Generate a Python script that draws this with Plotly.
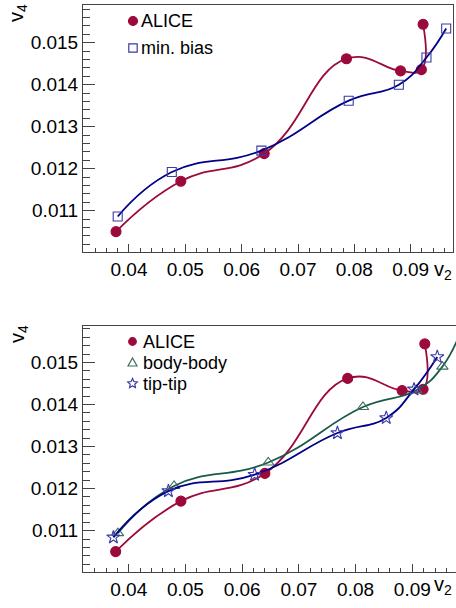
import math
import plotly.graph_objects as go

# ---------------- data ----------------
alice_v2 = [0.0377, 0.0492, 0.0640, 0.0786, 0.0882, 0.0919, 0.0922]
alice_v4 = [0.01050, 0.01170, 0.01236, 0.01462, 0.01433, 0.01436, 0.01544]

minbias_v2 = [0.0380, 0.0476, 0.0635, 0.0790, 0.0879, 0.0928, 0.0963]
minbias_v4 = [0.01086, 0.01192, 0.01243, 0.01362, 0.01400, 0.01465, 0.01534]

bodybody_v2 = [0.0381, 0.0480, 0.0646, 0.0813, 0.0907, 0.0953, 0.0990]
bodybody_v4 = [0.01094, 0.01206, 0.01262, 0.01394, 0.01434, 0.01490, 0.01590]

tiptip_v2 = [0.0373, 0.0470, 0.0622, 0.0768, 0.0854, 0.0903, 0.0944]
tiptip_v4 = [0.01084, 0.01194, 0.01233, 0.01332, 0.01368, 0.01436, 0.01513]

# ---------------- style ----------------
W, H = 456, 608
RED = "#9c0a3c"
NAVY = "#000088"
BLUE_MK = "#3a3aa8"
GREEN = "#1a5a4a"
GREEN_MK = "#3d6e62"
FRAME = "#444444"
FONT = "Liberation Sans, Arial, Helvetica, sans-serif"


def fx(px):
    return px / W


def fy(py):
    return 1 - py / H


fig = go.Figure()


def add_curve(x, y, color, mcolor, symbol, size, xa, ya):
    fig.add_trace(go.Scatter(
        x=x, y=y, mode="lines+markers", xaxis=xa, yaxis=ya,
        line=dict(color=color, width=1.8, shape="spline", smoothing=1.3),
        marker=dict(symbol=symbol, size=size, color=mcolor,
                    line=dict(color=mcolor, width=1.1)),
        showlegend=False, hoverinfo="skip"))


# top panel
add_curve(alice_v2, alice_v4, RED, RED, "circle", 10, "x", "y")
add_curve(minbias_v2, minbias_v4, NAVY, BLUE_MK, "square-open", 9, "x", "y")
# bottom panel
add_curve(alice_v2, alice_v4, RED, RED, "circle", 10, "x2", "y2")
add_curve(bodybody_v2, bodybody_v4, GREEN, GREEN_MK, "triangle-up-open", 10, "x2", "y2")
add_curve(tiptip_v2, tiptip_v4, NAVY, BLUE_MK, "star-open", 10, "x2", "y2")


def xaxis(domain, rng):
    return dict(domain=domain, range=rng, showgrid=False, zeroline=False,
                showline=True, linecolor=FRAME, linewidth=1, mirror=True,
                ticks="inside", ticklen=8, tickcolor=FRAME, tickwidth=1,
                dtick=0.01, tick0=0, tickformat=".2f",
                tickfont=dict(family=FONT, size=19, color="black"),
                minor=dict(dtick=0.002, tick0=0, ticks="inside", ticklen=4,
                           tickcolor=FRAME, tickwidth=1, showgrid=False))


def yaxis(domain, rng, anchor, mirror):
    return dict(domain=domain, range=rng, anchor=anchor, showgrid=False,
                zeroline=False, showline=True, linecolor=FRAME, linewidth=1,
                mirror=mirror,
                ticks="inside", ticklen=12, tickcolor=FRAME, tickwidth=1,
                dtick=0.001, tick0=0, tickformat=".3f",
                tickfont=dict(family=FONT, size=19, color="black"),
                minor=dict(dtick=0.0002, tick0=0, ticks="inside", ticklen=7,
                           tickcolor=FRAME, tickwidth=1, showgrid=False))


fig.update_layout(
    width=W, height=H, margin=dict(l=0, r=0, t=0, b=0),
    paper_bgcolor="white", plot_bgcolor="white",
    xaxis=xaxis([fx(83), fx(453)], [0.03184, 0.09751]) | dict(anchor="y"),
    yaxis=yaxis([fy(252), fy(5)], [0.010015, 0.0159], "x", True),
    xaxis2=xaxis([fx(83), 1.0], [0.03194, 0.0977]) | dict(anchor="y2"),
    yaxis2=yaxis([fy(572), fy(326)], [0.010015, 0.015866], "x2", False),
)

annotations = []
shapes = []


def title(text, xpx, ypx, xanchor, yanchor, angle=0):
    annotations.append(dict(text=text, xref="paper", yref="paper",
                            x=fx(xpx), y=fy(ypx), xanchor=xanchor,
                            yanchor=yanchor, textangle=angle, showarrow=False,
                            font=dict(family=FONT, size=20, color="black")))


title("v<sub>4</sub>", 18, 2, "center", "top", -90)
title("v<sub>2</sub>", 454, 270, "right", "middle")
title("v<sub>4</sub>", 18, 323, "center", "top", -90)
title("v<sub>2</sub>", 454, 585, "right", "middle")


def leg_text(text, xpx, ypx):
    annotations.append(dict(text=text, xref="paper", yref="paper",
                            x=fx(xpx), y=fy(ypx), xanchor="left",
                            yanchor="middle", showarrow=False,
                            font=dict(family=FONT, size=18, color="black")))


def pix_shape(kind, xpx, ypx, color, fill=None, **kw):
    d = dict(type=kind, xref="paper", yref="paper",
             xsizemode="pixel", ysizemode="pixel",
             xanchor=fx(xpx), yanchor=fy(ypx),
             line=dict(color=color, width=1.2),
             fillcolor=fill if fill else "rgba(0,0,0,0)")
    d.update(kw)
    shapes.append(d)


def star_path(r_out, r_in):
    pts = []
    for i in range(10):
        r = r_out if i % 2 == 0 else r_in
        a = math.pi / 2 + i * math.pi / 5
        pts.append((r * math.cos(a), r * math.sin(a)))
    return "M " + " L ".join(f"{p[0]:.2f},{p[1]:.2f}" for p in pts) + " Z"


# top legend
pix_shape("circle", 133, 21, RED, RED, x0=-4.5, x1=4.5, y0=-4.5, y1=4.5)
leg_text("ALICE", 139, 21)
pix_shape("rect", 133, 48, BLUE_MK, None, x0=-4.2, x1=4.2, y0=-4.2, y1=4.2)
leg_text("min. bias", 139, 48)

# bottom legend
pix_shape("circle", 132.5, 341.5, RED, RED, x0=-3.8, x1=3.8, y0=-3.8, y1=3.8)
leg_text("ALICE", 141, 341.5)
pix_shape("path", 132.5, 362.5, GREEN_MK, None,
          path="M -4.5,-3.5 L 4.5,-3.5 L 0,4.5 Z")
leg_text("body-body", 141, 362.5)
pix_shape("path", 132.5, 383.5, BLUE_MK, None, path=star_path(5, 2.4))
leg_text("tip-tip", 141, 383.5)

fig.update_layout(annotations=annotations, shapes=shapes)

fig.write_html("out.html")
